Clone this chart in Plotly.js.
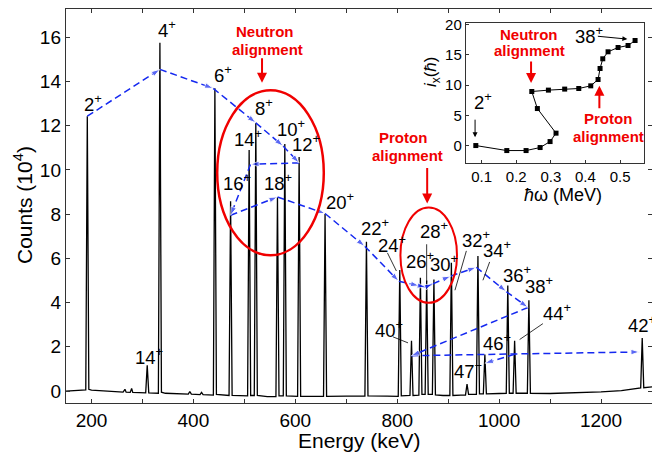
<!DOCTYPE html>
<html>
<head>
<meta charset="utf-8">
<script src="https://cdn.plot.ly/plotly-3.0.1.min.js"></script>
<style>html,body{margin:0;padding:0;background:#fff;}#chart{width:652px;height:456px;}</style>
</head>
<body>
<div id="chart"></div>
<script>
// ---------- DATA ----------
// gamma-ray spectrum (energy in keV, counts in 10^4)
var specE = [150,170,185,188.8,191.8,194.8,200,230,262,265.7,268,276,278.8,281,300,306.4,309.4,312.4,331.3,334.3,337.3,345,390,393,396,413,416,419,439.2,442.2,445.2,470,473,476,506.4,509.4,512.4,519.5,522.5,525.5,545,562,565,568,576.4,579.4,582.4,604.5,607.5,610.5,640,655.4,658.4,661.4,700,736.6,739.6,742.6,780,802,805,808,825,828,831,842.5,845.5,848.5,854.8,857.8,860.8,869,872,875,890,903.3,906.3,909.3,925,934,937,940,955.4,958.4,961.4,969,972,975,1000,1014,1017,1020,1027.4,1030.4,1033.4,1055.4,1058.4,1061.4,1100,1150,1200,1240,1265,1277.8,1280.8,1283.8,1300];
var specCounts = [0.0,0.02,0.04,0.05,12.43,0.08,0.04,-0.02,-0.05,0.08,-0.05,-0.06,0.12,-0.06,-0.08,-0.08,1.17,-0.08,-0.1,15.75,-0.05,-0.1,-0.14,-0.02,-0.14,-0.16,-0.06,-0.16,-0.18,13.69,-0.15,-0.2,8.59,-0.2,-0.22,10.9,-0.2,-0.2,12.13,-0.2,-0.25,-0.25,8.78,-0.22,-0.22,11.17,-0.22,-0.24,10.59,-0.24,-0.24,-0.24,8.03,-0.24,-0.23,-0.23,6.75,-0.22,-0.23,-0.24,5.47,-0.22,-0.2,2.27,-0.2,-0.18,5.13,-0.15,-0.15,5.0,-0.15,-0.15,5.04,-0.17,-0.2,-0.2,5.8,-0.2,-0.18,-0.18,0.31,-0.15,-0.15,6.11,-0.13,-0.13,1.65,-0.13,-0.11,-0.1,4.77,-0.1,-0.1,2.27,-0.1,-0.1,4.11,-0.1,-0.11,-0.08,-0.04,0.02,0.1,0.14,2.4,0.15,0.19];

// cascade path (blue dashed arrows): 2+ -> 4+ -> ... -> 42+
var cascadeE = [191.8,334.3,438.8,522.5,576.1,607.5,512.2,473,565,658.4,736.3,803,843,856,870,905,955,1014,1056.5,827.8,1275.5];
var cascadeCounts = [12.43,14.55,13.69,12.13,11.08,10.32,10.26,7.95,8.78,8.03,6.55,4.97,4.76,4.71,4.85,5.2,5.6,4.5,3.78,1.6,1.77];
// 44+ -> 46+
var tailE = [1030.4,972];
var tailCounts = [1.66,1.26];

// peak labels
var labelText = ['2','4','6','8','14','10','12','16','18','20','22','24','26','28','30','32','34','36','38','40','44','42','46','47','14'];
var labelSign = ['+','+','+','+','+','+','+','+','+','+','+','+','+','+','+','+','+','+','+','+','+','+','+','−','+'];
var labelE = [182,326.5,435.7,517.3,474.9,559.8,589.2,453.3,533.7,655.9,725.1,757.8,812.7,840.8,860.4,922.5,965.1,1004.3,1046.7,752.5,1082.7,1248,963.7,908.2,282];
var labelCounts = [12.89,16.22,14.19,12.71,11.3,11.77,11.08,9.31,9.31,8.45,7.28,6.52,5.77,7.13,5.65,6.75,6.29,5.16,4.68,2.67,3.43,2.9,2.07,0.82,1.47];

// inset: aligned angular momentum vs rotational frequency
var hw = [0.0833,0.1728,0.2285,0.269,0.2978,0.315,0.2611,0.245,0.293,0.340,0.3807,0.4153,0.4364,0.4422,0.450,0.4653,0.4942,0.523,0.5433];
var ix = [0.0,-0.83,-0.83,-0.33,0.66,2.05,6.13,8.95,9.18,9.35,9.45,9.89,10.94,12.76,14.37,15.53,16.24,16.57,17.4];

var xTickVals = [200,300,400,500,600,700,800,900,1000,1100,1200];
var xTickText = ['200','','400','','600','','800','','1000','','1200'];
var yTickVals = [0,2,4,6,8,10,12,14,16];
var insetXTicks = [0.1,0.2,0.3,0.4,0.5];
var insetYTicks = [0,5,10,15,20];

// ---------- STYLE ----------
var FONT = 'Liberation Sans, Arial, sans-serif';
var BLUE = 'rgb(20,40,240)';
var RED = 'rgb(240,0,0)';

var traces = [];
traces.push({x: specE, y: specCounts, type: 'scatter', mode: 'lines',
  line: {color: 'black', width: 1.3}, hoverinfo: 'skip', xaxis: 'x', yaxis: 'y'});

function arrowTrace(xs, ys) {
  var sizes = xs.map(function(_, i){ return i === 0 ? 0 : 9; });
  return {x: xs, y: ys, type: 'scatter', mode: 'lines+markers',
    line: {color: BLUE, width: 1.5, dash: '7px,4px'},
    marker: {symbol: 'arrow', angleref: 'previous', size: sizes, color: BLUE},
    hoverinfo: 'skip', xaxis: 'x', yaxis: 'y'};
}
traces.push(arrowTrace(cascadeE, cascadeCounts));
traces.push(arrowTrace(tailE, tailCounts));

traces.push({x: hw, y: ix, type: 'scatter', mode: 'lines+markers',
  line: {color: 'black', width: 1}, marker: {symbol: 'square', size: 5, color: 'black'},
  hoverinfo: 'skip', xaxis: 'x2', yaxis: 'y2'});

var annotations = [];
for (var i = 0; i < labelText.length; i++) {
  annotations.push({x: labelE[i], y: labelCounts[i], xref: 'x', yref: 'y',
    text: labelText[i] + '<sup>' + labelSign[i] + '</sup>', showarrow: false,
    xanchor: 'left', yanchor: 'middle', yshift: 3,
    font: {family: FONT, size: 18.5, color: 'black'}});
}
function txt(x, y, xref, yref, t, f) {
  annotations.push({x: x, y: y, xref: xref, yref: yref, text: t, showarrow: false,
    xanchor: 'center', yanchor: 'middle', font: f});
}
var redFont = {family: FONT, size: 15, color: RED, weight: 'bold'};
txt(540.2, 16.25, 'x', 'y', '<b>Neutron</b>', redFont);
txt(545.5, 15.45, 'x', 'y', '<b>alignment</b>', redFont);
txt(811.4, 11.47, 'x', 'y', '<b>Proton</b>', redFont);
txt(819.2, 10.67, 'x', 'y', '<b>alignment</b>', redFont);
txt(0.2366, 18.34, 'x2', 'y2', '<b>Neutron</b>', redFont);
txt(0.2392, 15.69, 'x2', 'y2', '<b>alignment</b>', redFont);
txt(0.4653, 4.42, 'x2', 'y2', '<b>Proton</b>', redFont);
txt(0.4662, 1.49, 'x2', 'y2', '<b>alignment</b>', redFont);

function arr(x, y, xref, yref, ax, ay, color, w) {
  annotations.push({x: x, y: y, xref: xref, yref: yref, ax: ax, ay: ay, text: '',
    showarrow: true, arrowhead: 2, arrowsize: 1, arrowwidth: w, arrowcolor: color});
}
arr(534.7, 13.94, 'x', 'y', 0, -26, RED, 2);
arr(858.8, 8.48, 'x', 'y', 0, -37, RED, 2);
arr(0.2429, 10.34, 'x2', 'y2', 0, -23, RED, 2);
arr(0.4402, 9.89, 'x2', 'y2', 0, 24, RED, 2);
arr(0.521, 17.63, 'x2', 'y2', -31, -3, 'black', 1);
arr(0.0812, 1.39, 'x2', 'y2', 0, -19, 'black', 1);

annotations.push({x: 0.3651, y: 17.8, xref: 'x2', yref: 'y2', text: '38<sup>+</sup>', showarrow: false,
  xanchor: 'left', yanchor: 'middle', yshift: 3, font: {family: FONT, size: 18.5, color: 'black'}});
annotations.push({x: 0.0717, y: 6.91, xref: 'x2', yref: 'y2', text: '2<sup>+</sup>', showarrow: false,
  xanchor: 'left', yanchor: 'middle', yshift: 3, font: {family: FONT, size: 18.5, color: 'black'}});

// axis titles
annotations.push({x: 0.5017, y: -0.0964, xref: 'paper', yref: 'paper', text: 'Energy (keV)', showarrow: false,
  xanchor: 'center', yanchor: 'middle', font: {family: FONT, size: 21, color: 'black'}});
annotations.push({x: -0.0734, y: 0.5025, xref: 'paper', yref: 'paper', text: 'Counts (10<sup>4</sup>)', showarrow: false,
  textangle: -90, xanchor: 'center', yanchor: 'middle', font: {family: FONT, size: 21, color: 'black'}});
annotations.push({x: 0.8486, y: 0.528, xref: 'paper', yref: 'paper', text: '<i>ħ</i>ω (MeV)', showarrow: false,
  xanchor: 'center', yanchor: 'middle', font: {family: FONT, size: 18, color: 'black'}});
annotations.push({x: 0.6246, y: 0.84, xref: 'paper', yref: 'paper', text: '<i>i</i><sub>x</sub>(<i>ħ</i>)', showarrow: false,
  textangle: -90, xanchor: 'center', yanchor: 'middle', font: {family: FONT, size: 17, color: 'black'}});

var shapes = [
  {type: 'circle', xref: 'x', yref: 'y', x0: 446.7, x1: 655.9, y0: 6.14, y1: 13.61, line: {color: RED, width: 2.5}},
  {type: 'circle', xref: 'x', yref: 'y', x0: 806.3, x1: 917.3, y0: 3.99, y1: 8.30, line: {color: RED, width: 2}},
  // leader lines
  {type: 'line', xref: 'x', yref: 'y', x0: 780.8, y0: 6.25, x1: 798.4, y1: 5.43, line: {color: 'black', width: 0.8}},
  {type: 'line', xref: 'x', yref: 'y', x0: 857.8, y0: 6.64, x1: 857.8, y1: 4.92, line: {color: 'black', width: 0.8}},
  {type: 'line', xref: 'x', yref: 'y', x0: 935.7, y0: 6.34, x1: 913.3, y1: 4.56, line: {color: 'black', width: 0.8}},
  {type: 'line', xref: 'x', yref: 'y', x0: 981.4, y0: 5.84, x1: 968.2, y1: 5.01, line: {color: 'black', width: 0.8}},
  {type: 'line', xref: 'x', yref: 'y', x0: 791.8, y0: 2.45, x1: 821.2, y1: 2.18, line: {color: 'black', width: 0.8}},
  {type: 'line', xref: 'x', yref: 'y', x0: 1085.9, y0: 3.05, x1: 1040.2, y1: 2.33, line: {color: 'black', width: 0.8}}
];

var axisCommon = {showgrid: false, zeroline: false, showline: true, linecolor: '#333', linewidth: 1.2,
  ticks: 'inside', tickcolor: '#333', mirror: 'ticks'};

var layout = {
  width: 652, height: 456,
  margin: {l: 66, r: 0, t: 9, b: 53},
  paper_bgcolor: 'white', plot_bgcolor: 'white',
  showlegend: false,
  font: {family: FONT, color: 'black'},
  xaxis: Object.assign({}, axisCommon, {range: [150, 1300], tickmode: 'array', tickvals: xTickVals, ticktext: xTickText,
    ticklen: 4, tickfont: {size: 19, family: FONT}}),
  yaxis: Object.assign({}, axisCommon, {range: [-0.54, 17.28], tickmode: 'array', tickvals: yTickVals,
    ticklen: 4, tickfont: {size: 19, family: FONT}}),
  xaxis2: Object.assign({}, axisCommon, {domain: [0.6826, 0.9863], anchor: 'y2', range: [0.055, 0.569],
    tickmode: 'array', tickvals: insetXTicks, ticklen: 3, mirror: true, tickfont: {size: 15, family: FONT}}),
  yaxis2: Object.assign({}, axisCommon, {domain: [0.609, 0.9645], anchor: 'x2', range: [-2.9, 20.3],
    tickmode: 'array', tickvals: insetYTicks, ticklen: 3, mirror: true, tickfont: {size: 15, family: FONT}}),
  annotations: annotations,
  shapes: shapes
};

Plotly.newPlot('chart', traces, layout, {displayModeBar: false, staticPlot: true});
</script>
</body>
</html>
